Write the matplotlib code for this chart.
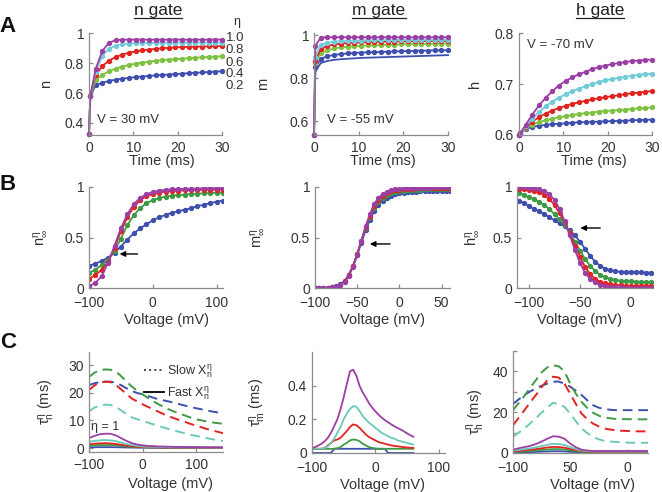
import matplotlib
matplotlib.use("Agg")
import matplotlib.pyplot as plt
from matplotlib.lines import Line2D

plt.rcParams['font.family'] = ['Liberation Sans', 'DejaVu Sans']
plt.rcParams['mathtext.fontset'] = 'custom'
plt.rcParams['mathtext.rm'] = 'Liberation Sans'
plt.rcParams['mathtext.it'] = 'Liberation Sans:italic'
plt.rcParams['mathtext.sf'] = 'Liberation Sans'
plt.rcParams['axes.unicode_minus'] = True

# ---------------- colours ----------------
PURPLE = '#9b3fa6'
CYAN = '#72cbd8'
RED = '#e2231f'
LIME = '#7fc143'
GREEN = '#3e9a45'
BLUE = '#3e4fae'
TEAL = '#6cc9b8'

eta_labels = ['1.0', '0.8', '0.6', '0.4', '0.2']

# ---------------- Row A : time courses ----------------
t_ms = [0, 0.3, 1.5, 3, 4.5, 6, 7.5, 9, 10.5, 12, 13.5, 15, 16.5, 18, 19.5,
        21, 22.5, 24, 25.5, 27, 28.5, 30]

n_eta10 = [0.33, 0.58, 0.76, 0.88, 0.935, 0.952, 0.956, 0.956, 0.956, 0.956, 0.956,
           0.956, 0.956, 0.956, 0.956, 0.956, 0.956, 0.956, 0.956, 0.956, 0.956, 0.956]
n_eta08 = [0.33, 0.58, 0.74, 0.85, 0.895, 0.915, 0.925, 0.930, 0.932, 0.934, 0.935,
           0.935, 0.936, 0.936, 0.936, 0.936, 0.936, 0.936, 0.936, 0.936, 0.936, 0.936]
n_eta06 = [0.33, 0.58, 0.72, 0.78, 0.815, 0.840, 0.856, 0.868, 0.877, 0.884, 0.889,
           0.894, 0.898, 0.901, 0.904, 0.906, 0.908, 0.909, 0.910, 0.911, 0.912, 0.913]
n_eta04 = [0.33, 0.58, 0.685, 0.720, 0.745, 0.762, 0.776, 0.787, 0.796, 0.803, 0.809,
           0.814, 0.819, 0.823, 0.826, 0.829, 0.832, 0.835, 0.838, 0.840, 0.843, 0.845]
n_eta02 = [0.33, 0.58, 0.652, 0.668, 0.680, 0.689, 0.696, 0.701, 0.706, 0.710, 0.714,
           0.717, 0.720, 0.723, 0.726, 0.729, 0.732, 0.735, 0.737, 0.740, 0.742, 0.745]

m_eta10 = [0.535, 0.95, 0.989, 0.990, 0.990, 0.990, 0.990, 0.990, 0.990, 0.990, 0.990,
           0.990, 0.990, 0.990, 0.990, 0.990, 0.990, 0.990, 0.990, 0.990, 0.990, 0.990]
m_eta08 = [0.535, 0.90, 0.955, 0.965, 0.970, 0.972, 0.973, 0.974, 0.975, 0.976, 0.976,
           0.977, 0.977, 0.977, 0.978, 0.978, 0.978, 0.978, 0.978, 0.978, 0.978, 0.978]
m_eta06 = [0.535, 0.88, 0.935, 0.950, 0.957, 0.961, 0.963, 0.965, 0.966, 0.967, 0.968,
           0.969, 0.970, 0.970, 0.971, 0.971, 0.972, 0.972, 0.972, 0.973, 0.973, 0.973]
m_eta04 = [0.535, 0.87, 0.915, 0.930, 0.938, 0.943, 0.946, 0.948, 0.950, 0.952, 0.953,
           0.954, 0.955, 0.956, 0.957, 0.958, 0.958, 0.959, 0.960, 0.960, 0.961, 0.961]
m_eta02 = [0.535, 0.85, 0.890, 0.902, 0.908, 0.912, 0.915, 0.917, 0.919, 0.920, 0.921,
           0.922, 0.923, 0.924, 0.925, 0.926, 0.927, 0.928, 0.928, 0.929, 0.929, 0.930]
m_eta02_line = [0.535, 0.83, 0.870, 0.880, 0.885, 0.888, 0.890, 0.892, 0.894, 0.895, 0.896,
                0.897, 0.898, 0.899, 0.900, 0.901, 0.902, 0.903, 0.904, 0.905, 0.906, 0.907]

h_eta10 = [0.600, 0.604, 0.620, 0.640, 0.658, 0.673, 0.686, 0.697, 0.706, 0.713, 0.719,
           0.724, 0.729, 0.733, 0.736, 0.739, 0.741, 0.743, 0.745, 0.746, 0.747, 0.748]
h_eta08 = [0.600, 0.603, 0.617, 0.632, 0.645, 0.656, 0.665, 0.673, 0.680, 0.686, 0.691,
           0.696, 0.700, 0.704, 0.707, 0.710, 0.712, 0.714, 0.716, 0.718, 0.719, 0.720]
h_eta06 = [0.600, 0.603, 0.615, 0.626, 0.635, 0.642, 0.648, 0.653, 0.657, 0.661, 0.664,
           0.667, 0.670, 0.672, 0.674, 0.676, 0.678, 0.680, 0.682, 0.683, 0.685, 0.686]
h_eta04 = [0.600, 0.603, 0.613, 0.620, 0.625, 0.629, 0.632, 0.635, 0.637, 0.639, 0.641,
           0.643, 0.644, 0.646, 0.647, 0.648, 0.649, 0.650, 0.651, 0.652, 0.653, 0.654]
h_eta02 = [0.600, 0.603, 0.612, 0.616, 0.618, 0.620, 0.621, 0.622, 0.623, 0.624, 0.625,
           0.625, 0.626, 0.626, 0.627, 0.627, 0.628, 0.628, 0.629, 0.629, 0.630, 0.630]

# ---------------- Row B : steady states ----------------
V_ninf = [-100, -90, -80, -70, -60, -50, -40, -30, -20, -10, 0, 10, 20, 30, 40, 50,
          60, 70, 80, 90, 100, 110]
ninf_eta10 = [0.02, 0.05, 0.12, 0.25, 0.42, 0.59, 0.73, 0.83, 0.89, 0.93, 0.95, 0.965,
              0.972, 0.977, 0.980, 0.982, 0.984, 0.985, 0.986, 0.987, 0.988, 0.988]
ninf_eta06 = [0.09, 0.13, 0.18, 0.26, 0.40, 0.56, 0.70, 0.80, 0.87, 0.91, 0.93, 0.945,
              0.955, 0.960, 0.964, 0.967, 0.969, 0.971, 0.972, 0.973, 0.974, 0.975]
ninf_eta04 = [0.15, 0.18, 0.23, 0.28, 0.37, 0.49, 0.62, 0.72, 0.79, 0.84, 0.87, 0.89,
              0.905, 0.915, 0.920, 0.925, 0.930, 0.934, 0.937, 0.940, 0.942, 0.945]
ninf_eta02 = [0.22, 0.24, 0.27, 0.30, 0.35, 0.41, 0.48, 0.54, 0.59, 0.63, 0.67, 0.70,
              0.725, 0.745, 0.760, 0.775, 0.790, 0.810, 0.825, 0.840, 0.855, 0.865]

V_minf = [-100, -95, -90, -85, -80, -75, -70, -65, -60, -55, -50, -45, -40, -35, -30,
          -25, -20, -15, -10, -5, 0, 5, 10, 15, 20, 25, 30, 35, 40, 45, 50, 55, 60]
minf_eta10 = [0, 0, 0, 0, 0.005, 0.01, 0.03, 0.06, 0.12, 0.21, 0.33, 0.47, 0.61, 0.73,
              0.83, 0.89, 0.93, 0.955, 0.97, 0.978, 0.984, 0.988, 0.99, 0.992, 0.993,
              0.994, 0.995, 0.995, 0.996, 0.996, 0.997, 0.997, 0.997]
minf_eta06 = [0, 0, 0, 0, 0.005, 0.012, 0.03, 0.065, 0.125, 0.215, 0.335, 0.47, 0.60,
              0.715, 0.81, 0.87, 0.915, 0.94, 0.958, 0.968, 0.975, 0.979, 0.982, 0.984,
              0.986, 0.987, 0.988, 0.988, 0.989, 0.989, 0.99, 0.99, 0.99]
minf_eta04 = [0, 0, 0, 0, 0.006, 0.013, 0.032, 0.068, 0.13, 0.22, 0.335, 0.465, 0.59,
              0.70, 0.79, 0.85, 0.895, 0.922, 0.94, 0.952, 0.96, 0.965, 0.968, 0.971,
              0.973, 0.975, 0.976, 0.977, 0.978, 0.978, 0.979, 0.979, 0.98]
minf_eta02 = [0, 0, 0, 0, 0.007, 0.015, 0.035, 0.07, 0.13, 0.215, 0.325, 0.45, 0.57,
              0.675, 0.76, 0.82, 0.865, 0.895, 0.915, 0.928, 0.937, 0.943, 0.948, 0.951,
              0.954, 0.956, 0.958, 0.959, 0.96, 0.961, 0.962, 0.962, 0.963]

V_hinf = [-110, -105, -100, -95, -90, -85, -80, -75, -70, -65, -60, -55, -50, -45, -40,
          -35, -30, -25, -20, -15, -10, -5, 0, 5, 10, 15, 20]
hinf_eta10 = [1.0, 1.0, 0.995, 0.99, 0.98, 0.96, 0.93, 0.87, 0.78, 0.66, 0.52, 0.38, 0.25,
              0.15, 0.09, 0.055, 0.03, 0.02, 0.012, 0.008, 0.005, 0.003, 0.002, 0.001,
              0.001, 0.001, 0.001]
hinf_eta06 = [0.985, 0.98, 0.975, 0.965, 0.95, 0.92, 0.88, 0.82, 0.74, 0.65, 0.54, 0.42,
              0.31, 0.21, 0.14, 0.09, 0.06, 0.045, 0.035, 0.03, 0.026, 0.024, 0.022, 0.021,
              0.02, 0.02, 0.02]
hinf_eta04 = [0.94, 0.92, 0.90, 0.88, 0.85, 0.82, 0.78, 0.73, 0.68, 0.62, 0.55, 0.46, 0.37,
              0.29, 0.22, 0.17, 0.13, 0.105, 0.09, 0.08, 0.072, 0.068, 0.065, 0.063, 0.062,
              0.061, 0.06]
hinf_eta02 = [0.86, 0.84, 0.81, 0.78, 0.76, 0.73, 0.70, 0.67, 0.64, 0.61, 0.57, 0.52, 0.46,
              0.39, 0.32, 0.26, 0.22, 0.19, 0.175, 0.165, 0.16, 0.158, 0.156, 0.155, 0.154,
              0.153, 0.153]

# ---------------- Row C : time constants ----------------
V_taun = [-100, -90, -80, -70, -60, -50, -40, -30, -20, -10, 0, 10, 20, 30, 40, 50, 60,
          70, 80, 90, 100, 110, 120, 130, 140, 150]
taun_slow_04 = [25.7, 27.2, 28.1, 28.4, 28.3, 27.6, 26.0, 24.0, 22.2, 20.7, 19.4, 18.1, 16.9,
                15.8, 14.8, 13.9, 13.1, 12.4, 11.7, 11.0, 10.4, 10.0, 9.6, 9.3, 9.0, 8.8]
taun_slow_02 = [22.8, 23.4, 23.8, 24.0, 24.0, 23.6, 22.7, 21.6, 20.6, 19.9, 19.4, 18.8, 18.2,
                17.6, 17.2, 16.8, 16.3, 15.8, 15.3, 14.8, 14.4, 14.0, 13.6, 13.2, 12.9, 12.6]
taun_slow_06 = [21.0, 22.6, 23.6, 24.0, 23.8, 22.8, 21.2, 19.5, 17.9, 16.8, 15.8, 14.9, 14.0,
                13.1, 12.2, 11.4, 10.7, 10.0, 9.4, 8.7, 8.1, 7.5, 6.9, 6.4, 5.9, 5.4]
taun_slow_08 = [13.3, 14.6, 15.3, 15.7, 15.6, 14.9, 13.6, 12.3, 11.1, 10.4, 9.8, 9.2, 8.6,
                8.0, 7.4, 6.8, 6.3, 5.8, 5.3, 4.8, 4.4, 4.0, 3.6, 3.2, 2.9, 2.6]
taun_fast_10 = [3.6, 4.4, 5.0, 5.2, 5.2, 4.6, 3.6, 2.6, 1.8, 1.3, 1.0, 0.8, 0.7, 0.6, 0.55,
                0.5, 0.45, 0.42, 0.4, 0.38, 0.36, 0.34, 0.32, 0.31, 0.3, 0.3]
taun_fast_08 = [2.3, 2.6, 2.8, 2.9, 2.8, 2.5, 2.0, 1.5, 1.1, 0.8, 0.6, 0.5, 0.45, 0.4, 0.37,
                0.34, 0.32, 0.3, 0.28, 0.26, 0.25, 0.24, 0.23, 0.22, 0.21, 0.2]
taun_fast_06 = [1.4, 1.6, 1.7, 1.8, 1.7, 1.5, 1.2, 0.9, 0.7, 0.5, 0.4, 0.35, 0.3, 0.28, 0.26,
                0.24, 0.22, 0.2, 0.19, 0.18, 0.17, 0.16, 0.15, 0.15, 0.14, 0.14]
taun_fast_04 = [0.9, 1.0, 1.1, 1.1, 1.1, 1.0, 0.8, 0.6, 0.45, 0.35, 0.3, 0.25, 0.22, 0.2,
                0.18, 0.17, 0.16, 0.15, 0.14, 0.13, 0.12, 0.12, 0.11, 0.11, 0.1, 0.1]
taun_fast_02 = [0.3, 0.32, 0.34, 0.35, 0.34, 0.32, 0.28, 0.24, 0.2, 0.17, 0.15, 0.13, 0.12,
                0.11, 0.1, 0.1, 0.09, 0.09, 0.08, 0.08, 0.08, 0.07, 0.07, 0.07, 0.07, 0.07]

V_taum = V_minf
taum_10 = [0.03, 0.035, 0.045, 0.055, 0.07, 0.09, 0.12, 0.16, 0.2, 0.26, 0.33, 0.41, 0.485,
           0.495, 0.46, 0.40, 0.36, 0.33, 0.295, 0.27, 0.248, 0.228, 0.21, 0.195, 0.183,
           0.17, 0.159, 0.149, 0.139, 0.129, 0.117, 0.106, 0.097]
taum_08 = [0.025, 0.025, 0.025, 0.025, 0.03, 0.04, 0.06, 0.085, 0.12, 0.155, 0.2, 0.235,
           0.262, 0.278, 0.275, 0.25, 0.22, 0.2, 0.18, 0.165, 0.15, 0.135, 0.12, 0.11, 0.1,
           0.09, 0.085, 0.075, 0.07, 0.065, 0.06, 0.055, 0.05]
taum_06 = [0.025, 0.025, 0.025, 0.025, 0.03, 0.045, 0.06, 0.075, 0.08, 0.09, 0.11, 0.13,
           0.155, 0.17, 0.165, 0.15, 0.13, 0.11, 0.095, 0.085, 0.075, 0.065, 0.06, 0.055,
           0.05, 0.045, 0.042, 0.04, 0.037, 0.035, 0.033, 0.031, 0.03]
taum_04 = [0.025, 0.025, 0.025, 0.025, 0.025, 0.025, 0.025, 0.025, 0.028, 0.035, 0.05,
           0.06, 0.075, 0.08, 0.078, 0.07, 0.055, 0.045, 0.035, 0.03, 0.027, 0.025, 0.025,
           0.025, 0.025, 0.025, 0.025, 0.025, 0.025, 0.025, 0.025, 0.025, 0.025]
taum_02 = [0, 0, 0, 0, 0, 0, 0, 0.025, 0.025, 0.025, 0.025, 0.025, 0.025, 0.025, 0.025,
           0.025, 0.025, 0.025, 0.025, 0.025, 0.025, 0.025, 0.025, 0.025, 0, 0, 0, 0, 0,
           0, 0, 0, 0]

V_tauh = [-100, -95, -90, -85, -80, -75, -70, -65, -60, -55, -50, -45, -40, -35, -30,
          -25, -20, -15, -10, -5, 0, 5, 10, 15, 20]
tauh_slow_04 = [21, 24.5, 28, 32, 35.7, 39.5, 42, 43, 42.5, 40, 34, 29, 25, 22, 19.7, 18.3,
                17.4, 17, 16.7, 16.6, 16.6, 16.5, 16.5, 16.5, 16.5]
tauh_slow_02 = [24, 26.3, 28.4, 30.2, 31.6, 33, 34, 35, 35, 34, 32.5, 30.5, 28.4, 25.8, 23.4,
                22.2, 21.5, 21.2, 21, 21, 21, 21, 21, 21, 21]
tauh_slow_06 = [13.6, 17.3, 21, 24.8, 28.4, 32.2, 35.7, 37.4, 37, 34, 29, 24, 19.3, 16.5,
                14.4, 13, 12, 11.5, 11.1, 10.9, 10.8, 10.7, 10.6, 10.6, 10.6]
tauh_slow_08 = [7.9, 10, 12, 14.5, 17, 19.8, 22.3, 24.6, 24, 22.6, 19.3, 15.5, 12, 9.7, 7.9,
                6.7, 5.9, 5.6, 5.4, 5.2, 5.1, 5.0, 5.0, 5.0, 5.0]
tauh_fast_10 = [1.6, 2.3, 2.9, 3.5, 4.4, 5.6, 7.0, 8.2, 8.0, 7.0, 4.6, 2.8, 1.6, 1.2, 1.0,
                1.0, 1.0, 1.0, 1.0, 1.0, 1.0, 1.0, 1.0, 1.0, 1.0]
tauh_fast_08 = [1.2, 1.5, 1.9, 2.3, 2.8, 3.4, 4.0, 4.5, 4.4, 3.9, 2.9, 1.9, 1.2, 0.9, 0.8,
                0.75, 0.7, 0.7, 0.7, 0.7, 0.7, 0.7, 0.7, 0.7, 0.7]
tauh_fast_06 = [0.9, 1.1, 1.3, 1.6, 1.9, 2.3, 2.7, 3.0, 2.9, 2.6, 2.0, 1.4, 0.9, 0.7, 0.6,
                0.55, 0.5, 0.5, 0.5, 0.5, 0.5, 0.5, 0.5, 0.5, 0.5]
tauh_fast_04 = [0.6, 0.7, 0.9, 1.0, 1.2, 1.5, 1.7, 1.9, 1.9, 1.7, 1.3, 0.9, 0.6, 0.5, 0.45,
                0.4, 0.4, 0.4, 0.4, 0.4, 0.4, 0.4, 0.4, 0.4, 0.4]
tauh_fast_02 = [0.3, 0.35, 0.4, 0.45, 0.55, 0.65, 0.75, 0.85, 0.85, 0.75, 0.6, 0.45, 0.3,
                0.25, 0.2, 0.2, 0.2, 0.2, 0.2, 0.2, 0.2, 0.2, 0.2, 0.2, 0.2]

# ---------------- figure ----------------
W, H = 662, 492
fig = plt.figure(figsize=(W / 100, H / 100), dpi=100)


def px_axes(l, r, t, b):
    return fig.add_axes([l / W, 1 - b / H, (r - l) / W, (b - t) / H])


SP = '#8c8c8c'
TXT = '#333333'


def style(ax, xlim, ylim, xt, xtl, yt, ytl, xpad=4.5):
    ax.set_xlim(xlim)
    ax.set_ylim(ylim)
    for s in ['top', 'right']:
        ax.spines[s].set_visible(False)
    for s in ['left', 'bottom']:
        ax.spines[s].set_color(SP)
        ax.spines[s].set_linewidth(0.9)
    ax.set_xticks(xt)
    ax.set_xticklabels(xtl)
    ax.set_yticks(yt)
    ax.set_yticklabels(ytl)
    ax.tick_params(direction='in', length=3, width=0.9, color=SP, labelsize=10,
                   labelcolor=TXT)
    ax.tick_params(axis='x', pad=xpad)
    ax.tick_params(axis='y', pad=3.5)
    ax.patch.set_alpha(0)


def labels(ax, xl, xc, xy, yl, yx, yy):
    ax.set_xlabel(xl, fontsize=10.5, color=TXT)
    ax.xaxis.set_label_coords(xc, xy)
    ax.set_ylabel(yl, fontsize=10.5, color=TXT)
    ax.yaxis.set_label_coords(yx, yy)


mk = dict(marker='o', ms=2.8, lw=1.3, clip_on=False)

# Row A
axn = px_axes(89, 222, 33, 135)
for y, c in [(n_eta02, BLUE), (n_eta04, LIME), (n_eta06, RED), (n_eta08, CYAN), (n_eta10, PURPLE)]:
    axn.plot(t_ms, y, color=c, **mk)
style(axn, (0, 30), (0.32, 1.0), [0, 10, 20, 30], ['0', '10', '20', '30'],
      [0.4, 0.6, 0.8, 1.0], ['0.4', '0.6', '0.8', '1'])
labels(axn, 'Time (ms)', 0.55, -0.19, 'n', -0.27, 0.5)
axn.text(0.06, 0.147, 'V = 30 mV', transform=axn.transAxes, fontsize=9.5, color=TXT, va='center')
axn.text(1.113, 1.108, 'η', transform=axn.transAxes, fontsize=9, color=TXT, ha='center', va='center')
for i, lab in enumerate(eta_labels):
    axn.text(1.03, [0.95, 0.833, 0.706, 0.598, 0.48][i], lab, transform=axn.transAxes,
             fontsize=9.5, color=TXT, va='center')

axm = px_axes(314, 448, 33, 135)
axm.plot(t_ms, m_eta02_line, color=BLUE, lw=1.3, clip_on=False)
for y, c in [(m_eta02, BLUE), (m_eta04, LIME), (m_eta06, RED), (m_eta08, CYAN), (m_eta10, PURPLE)]:
    axm.plot(t_ms, y, color=c, **mk)
style(axm, (0, 30), (0.535, 1.01), [0, 10, 20, 30], ['0', '10', '20', '30'],
      [0.6, 0.8, 1.0], ['0.6', '0.8', '1'])
labels(axm, 'Time (ms)', 0.515, -0.19, 'm', -0.33, 0.5)
axm.text(0.097, 0.147, 'V = -55 mV', transform=axm.transAxes, fontsize=9.5, color=TXT, va='center')

axh = px_axes(519, 652, 33, 135)
for y, c in [(h_eta02, BLUE), (h_eta04, LIME), (h_eta06, RED), (h_eta08, CYAN), (h_eta10, PURPLE)]:
    axh.plot(t_ms, y, color=c, **mk)
style(axh, (0, 30), (0.6, 0.8), [0, 10, 20, 30], ['0', '10', '20', '30'],
      [0.6, 0.7, 0.8], ['0.6', '0.7', '0.8'])
labels(axh, 'Time (ms)', 0.56, -0.19, 'h', -0.28, 0.5)
axh.text(0.06, 0.88, 'V = -70 mV', transform=axh.transAxes, fontsize=9.5, color=TXT, va='center')

# Row B
arrow = dict(arrowstyle='-|>', color='k', lw=1.0, mutation_scale=8, shrinkA=0, shrinkB=0)
mkb = dict(marker='o', ms=2.8, lw=1.3, clip_on=True)

axb1 = px_axes(89, 223, 187, 288)
for y, c in [(ninf_eta02, BLUE), (ninf_eta04, GREEN), (ninf_eta06, RED), (ninf_eta10, PURPLE)]:
    axb1.plot(V_ninf, y, color=c, **mkb)
style(axb1, (-100, 110), (0, 1), [-100, 0, 100], ['−100', '0', '100'],
      [0, 0.5, 1], ['0', '0.5', '1'], xpad=6)
labels(axb1, 'Voltage (mV)', 0.58, -0.25, r'$\mathregular{n_{\infty}^{\eta}}$', -0.29, 0.5)
axb1.annotate('', xy=(-52, 0.337), xytext=(-24, 0.337), arrowprops=arrow)

axb2 = px_axes(315, 450, 187, 288)
for y, c in [(minf_eta02, BLUE), (minf_eta04, GREEN), (minf_eta06, RED), (minf_eta10, PURPLE)]:
    axb2.plot(V_minf, y, color=c, **mkb)
style(axb2, (-100, 60), (0, 1), [-100, -50, 0, 50], ['−100', '−50', '0', '50'],
      [0, 0.5, 1], ['0', '0.5', '1'], xpad=6)
labels(axb2, 'Voltage (mV)', 0.50, -0.25, r'$\mathregular{m_{\infty}^{\eta}}$', -0.356, 0.5)
axb2.annotate('', xy=(-35, 0.436), xytext=(-11, 0.436), arrowprops=arrow)

axb3 = px_axes(517, 653, 187, 288)
for y, c in [(hinf_eta02, BLUE), (hinf_eta04, GREEN), (hinf_eta06, RED), (hinf_eta10, PURPLE)]:
    axb3.plot(V_hinf, y, color=c, **mkb)
style(axb3, (-112, 22), (0, 1), [-100, -50, 0], ['−100', '−50', '0'],
      [0, 0.5, 1], ['0', '0.5', '1'], xpad=6)
labels(axb3, 'Voltage (mV)', 0.46, -0.25, r'$\mathregular{h_{\infty}^{\eta}}$', -0.257, 0.5)
axb3.annotate('', xy=(-49.5, 0.594), xytext=(-30, 0.594), arrowprops=arrow)

# Row C
dash = dict(lw=1.4, linestyle=(0, (5, 3)))
sol = dict(lw=1.3)

axc1 = px_axes(89, 223, 352, 452)
for y, c in [(taun_slow_02, BLUE), (taun_slow_04, GREEN), (taun_slow_06, RED), (taun_slow_08, TEAL)]:
    axc1.plot(V_taun, y, color=c, **dash)
for y, c in [(taun_fast_02, BLUE), (taun_fast_04, GREEN), (taun_fast_06, RED), (taun_fast_08, TEAL), (taun_fast_10, PURPLE)]:
    axc1.plot(V_taun, y, color=c, **sol)
style(axc1, (-100, 150), (-1.4, 34.7), [-100, 0, 100], ['−100', '0', '100'],
      [0, 10, 20, 30], ['0', '10', '20', '30'])
labels(axc1, 'Voltage (mV)', 0.61, -0.25, r'$\mathregular{\tau_n^\eta}$ (ms)', -0.24, 0.5)
axc1.text(-96, 7.8, 'η = 1', fontsize=9, color=TXT, va='center')
hs = [Line2D([], [], color='#444444', lw=1.4, linestyle=':'),
      Line2D([], [], color='#111111', lw=1.4)]
axc1.legend(hs, [r'Slow $\mathregular{X_n^\eta}$', r'Fast $\mathregular{X_n^\eta}$'],
            loc='upper right', bbox_to_anchor=(0.98, 0.97), frameon=False, fontsize=9,
            handlelength=1.6, handletextpad=0.3, labelspacing=0.35, borderpad=0.1,
            labelcolor=TXT)

axc2 = px_axes(312, 445, 352, 453)
for y, c in [(taum_02, BLUE), (taum_04, GREEN), (taum_06, RED), (taum_08, TEAL), (taum_10, PURPLE)]:
    axc2.plot(V_taum, y, color=c, **sol)
style(axc2, (-100, 110), (0, 0.6), [-100, 0, 100], ['−100', '0', '100'],
      [0, 0.2, 0.4], ['0', '0.2', '0.4'], xpad=6)
labels(axc2, 'Voltage (mV)', 0.53, -0.25, r'$\mathregular{\tau_m^\eta}$ (ms)', -0.33, 0.5)

axc3 = px_axes(513, 648, 351, 453)
for y, c in [(tauh_slow_02, BLUE), (tauh_slow_04, GREEN), (tauh_slow_06, RED), (tauh_slow_08, TEAL)]:
    axc3.plot(V_tauh, y, color=c, **dash)
for y, c in [(tauh_fast_02, BLUE), (tauh_fast_04, GREEN), (tauh_fast_06, RED), (tauh_fast_08, TEAL), (tauh_fast_10, PURPLE)]:
    axc3.plot(V_tauh, y, color=c, **sol)
style(axc3, (-100, 18), (0, 50), [-100, -50, 0], ['−100', '50', '0'],
      [0, 10, 20, 30, 40, 50], ['0', '', '20', '', '40', ''], xpad=6)
labels(axc3, 'Voltage (mV)', 0.59, -0.245, r'$\mathregular{\tau_h^\eta}$ (ms)', -0.19, 0.4)

# titles and panel letters
titles = [('n gate', 158), ('m gate', 379), ('h gate', 600)]
ttl = []
for s, x in titles:
    ttl.append(fig.text(x / W, 1 - 15 / H, s, fontsize=12.5, ha='center', va='baseline', color='#222222'))
fig.canvas.draw()
for tx in ttl:
    bb = tx.get_window_extent()
    yline = 1 - 17.5 / H
    fig.add_artist(Line2D([bb.x0 / W, bb.x1 / W], [yline, yline], color='#222222', lw=0.9))

for s, y in [('A', 27), ('B', 185), ('C', 342)]:
    fig.text(8 / W, 1 - y / H, s, fontsize=16, fontweight='bold', ha='center', va='center', color='#111111')

fig.savefig('out.png', dpi=100)
